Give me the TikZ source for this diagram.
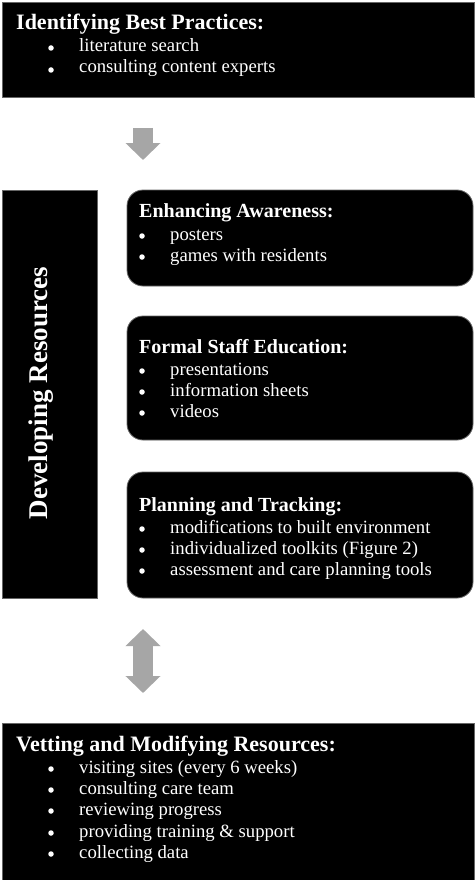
\documentclass[tikz,border=0pt]{standalone}
\usepackage{fontspec}
\setmainfont{Liberation Serif}
\usetikzlibrary{arrows.meta}
\definecolor{arrowgray}{HTML}{A6A6A6}
\begin{document}
\begin{tikzpicture}[x=1pt,y=-1pt,
  sqbox/.style={draw=black!60,line width=0.8pt,fill=black},
  rbox/.style={draw=black!60,line width=0.8pt,fill=black,rounded corners=16pt},
  head/.style={anchor=base west,inner sep=0pt,text=white,font=\fontsize{22}{24}\selectfont\bfseries},
  subhead/.style={anchor=base west,inner sep=0pt,text=white,font=\fontsize{20}{22}\selectfont\bfseries},
  item/.style={anchor=base west,inner sep=0pt,text=white,font=\fontsize{18.7}{21}\selectfont},
  dot/.style={circle,fill=white,inner sep=0pt,minimum size=5.5pt},
  blockarrow/.style={draw=arrowgray,line width=20pt}
]
\useasboundingbox (0,0) rectangle (474,880);
\fill[white] (0,0) rectangle (474,880);
% top box
\draw[sqbox] (2,2) rectangle (474,97);
\node[head] (t0) at (16,30) {Identifying Best Practices:};
\node[dot] (t1b) at (51,48) {}; \node[item] (t1) at (79,52) {literature search};
\node[dot] (t2b) at (51,70) {}; \node[item] (t2) at (79,73) {consulting content experts};
% down arrow
\coordinate (a1s) at (143,128);
\coordinate (a1e) at (143,160);
\draw[blockarrow,-{Triangle[length=17pt,width=34pt]}] (a1s) -- (a1e);
% left box
\draw[sqbox] (2,190) rectangle (97,598);
\node[rotate=90,anchor=base,inner sep=0pt,text=white,font=\fontsize{27}{29}\selectfont\bfseries] (dev) at (47,393) {Developing Resources};
% Enhancing
\draw[rbox] (127,190) rectangle (473,286);
\node[subhead] (e0) at (139,217) {Enhancing Awareness:};
\node[dot] (e1b) at (142,236) {}; \node[item] (e1) at (170,240) {posters};
\node[dot] (e2b) at (142,257) {}; \node[item] (e2) at (170,261) {games with residents};
% Formal
\draw[rbox] (127,316) rectangle (473,440);
\node[subhead] (f0) at (139,353) {Formal Staff Education:};
\node[dot] (f1b) at (142,371) {}; \node[item] (f1) at (170,375) {presentations};
\node[dot] (f2b) at (142,392) {}; \node[item] (f2) at (170,396) {information sheets};
\node[dot] (f3b) at (142,413) {}; \node[item] (f3) at (170,417) {videos};
% Planning
\draw[rbox] (127,472) rectangle (473,598);
\node[subhead] (p0) at (139,511) {Planning and Tracking:};
\node[dot] (p1b) at (142,529) {}; \node[item] (p1) at (170,533) {modifications to built environment};
\node[dot] (p2b) at (142,550) {}; \node[item] (p2) at (170,554) {individualized toolkits (Figure 2)};
\node[dot] (p3b) at (142,571) {}; \node[item] (p3) at (170,575) {assessment and care planning tools};
% double arrow
\coordinate (a2s) at (143,629);
\coordinate (a2e) at (143,693);
\draw[blockarrow,{Triangle[length=17pt,width=34pt]}-{Triangle[length=17pt,width=34pt]}] (a2s) -- (a2e);
% bottom box
\draw[sqbox] (2,723) rectangle (474,882);
\node[head] (v0) at (16,751) {Vetting and Modifying Resources:};
\node[dot] (v1b) at (51,769) {}; \node[item] (v1) at (79,773) {visiting sites (every 6 weeks)};
\node[dot] (v2b) at (51,790) {}; \node[item] (v2) at (79,794) {consulting care team};
\node[dot] (v3b) at (51,811) {}; \node[item] (v3) at (79,815) {reviewing progress};
\node[dot] (v4b) at (51,833) {}; \node[item] (v4) at (79,837) {providing training \& support};
\node[dot] (v5b) at (51,854) {}; \node[item] (v5) at (79,858) {collecting data};
\end{tikzpicture}
\end{document}
